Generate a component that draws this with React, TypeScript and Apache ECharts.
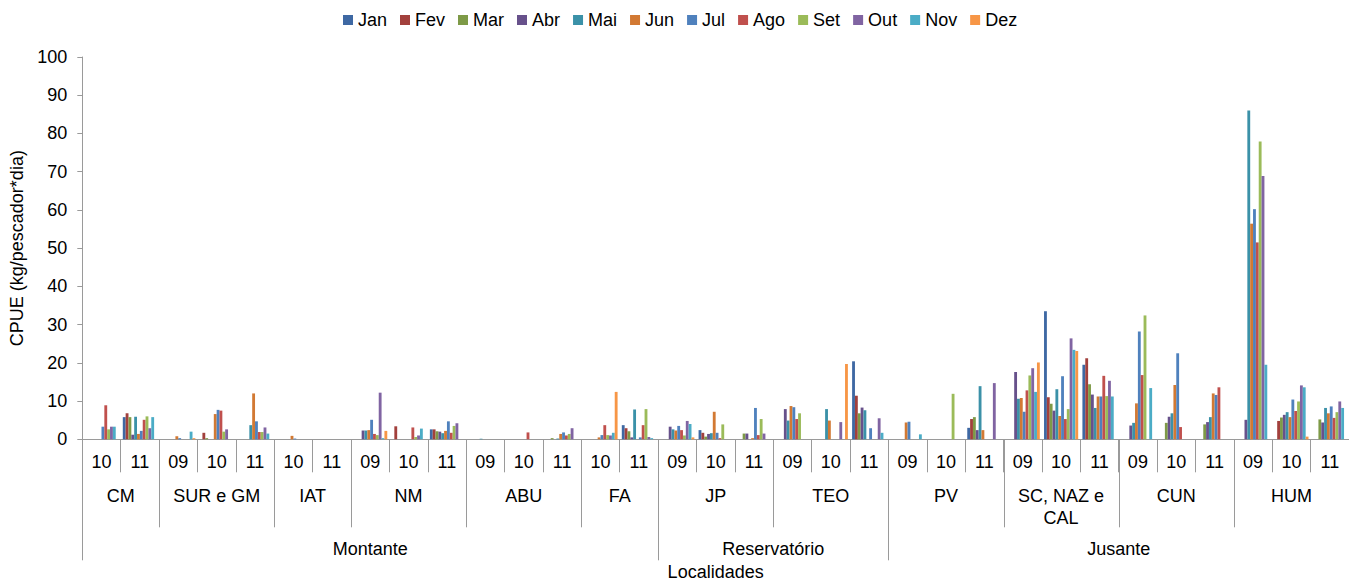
import React, { useEffect, useRef } from "react";
import * as echarts from "echarts";

const months = ["Jan", "Fev", "Mar", "Abr", "Mai", "Jun", "Jul", "Ago", "Set", "Out", "Nov", "Dez"];
const monthColors = ["#3E68A3", "#A2403C", "#7E9A47", "#67518B", "#3B91A8", "#D27933", "#4F81BD", "#C0504D", "#9BBB59", "#8064A2", "#4BACC6", "#F79646"];

const locations = ["CM", "SUR e GM", "IAT", "NM", "ABU", "FA", "JP", "TEO", "PV", "SC, NAZ e\nCAL", "CUN", "HUM"];
const locationYears = [
  ["10", "11"], ["09", "10", "11"], ["10", "11"], ["09", "10", "11"], ["09", "10", "11"], ["10", "11"],
  ["09", "10", "11"], ["09", "10", "11"], ["09", "10", "11"], ["09", "10", "11"], ["09", "10", "11"], ["09", "10", "11"],
];
const regions = ["Montante", "Reservatório", "Jusante"];
const regionLocationCounts = [6, 2, 4];

const yTicks = { min: 0, max: 100, interval: 10 };

// values per month, one per locality/year category (33)
const jan = [0, 5.8, 0, 0, 0, 0, 0, 0, 0, 2.6, 0, 0, 0, 0, 3.7, 0, 2.4, 0, 0, 0, 20.4, 0, 0, 3.0, 0, 33.5, 19.5, 0, 0, 0, 0, 0, 0];
const fev = [0, 6.8, 0, 1.7, 0, 0, 0, 0, 3.4, 2.6, 0, 0, 0, 0, 2.9, 0, 1.7, 0, 0, 0, 11.4, 0, 0, 5.3, 0, 11.0, 21.2, 0, 0, 0, 0, 4.8, 0];
const mar = [0, 5.8, 0, 0.3, 0, 0, 0, 0, 0, 2.1, 0, 0, 0.3, 0, 2.1, 0, 0.7, 1.5, 0, 0, 6.8, 0, 0, 5.8, 0, 9.3, 14.4, 0, 4.3, 3.9, 0, 5.7, 5.2];
const abr = [0, 1.2, 0, 0, 0, 0, 0, 2.3, 0, 2.0, 0, 0, 0, 0, 0.5, 3.3, 1.4, 1.5, 7.9, 0, 8.3, 0, 0, 2.4, 17.6, 7.5, 11.7, 3.6, 5.9, 4.5, 5.1, 6.4, 4.4];
const mai = [0, 5.9, 0, 0, 3.7, 0, 0, 2.3, 0, 1.6, 0.15, 0, 0.2, 0, 7.8, 2.6, 1.6, 0, 4.9, 7.9, 7.6, 0, 0, 13.9, 10.6, 13.1, 8.2, 4.3, 6.8, 5.8, 86.0, 7.1, 8.2];
const jun = [0, 1.4, 0.8, 6.6, 12.0, 0.9, 0, 2.4, 0, 2.2, 0, 0, 1.4, 0.5, 0, 2.3, 7.2, 0.3, 8.7, 4.9, 0, 4.4, 0, 2.4, 10.8, 6.1, 11.2, 9.4, 14.2, 12.0, 56.4, 5.8, 6.8];
const jul = [3.3, 2.2, 0.3, 7.7, 4.7, 0.2, 0, 5.1, 0, 4.7, 0, 0, 1.8, 1.1, 0.5, 3.5, 1.7, 8.2, 8.4, 0, 2.9, 4.6, 0, 0, 7.2, 16.5, 11.2, 28.2, 22.5, 11.6, 60.2, 10.4, 8.6];
const ago = [8.9, 5.1, 0, 7.5, 1.9, 0, 0, 1.4, 3.1, 1.7, 0, 1.8, 1.0, 3.7, 3.7, 2.4, 0.3, 1.1, 5.3, 0, 0, 0, 0, 0, 12.8, 5.3, 16.6, 16.8, 3.2, 13.6, 51.5, 7.4, 5.6];
const set = [2.6, 6.0, 0, 2.0, 1.9, 0, 0, 1.1, 0.6, 3.5, 0, 0, 1.4, 1.1, 7.9, 1.0, 3.9, 5.3, 6.8, 0, 0, 0, 11.9, 0, 16.7, 7.9, 11.3, 32.4, 0, 0, 77.9, 9.9, 7.1];
const out = [3.3, 2.9, 0, 2.6, 3.1, 0, 0, 12.2, 1.0, 4.2, 0, 0, 2.9, 1.0, 0.6, 4.8, 0, 1.5, 0, 4.5, 5.5, 0, 0, 14.7, 18.6, 26.4, 15.3, 0, 0, 0, 68.9, 14.1, 9.9];
const nov = [3.3, 5.8, 2.0, 0, 1.5, 0, 0, 0.3, 2.8, 0, 0, 0, 0, 1.7, 0.3, 4.0, 0, 0, 0, 0, 1.7, 1.3, 0, 0, 12.4, 23.4, 11.2, 13.4, 0, 0, 19.5, 13.6, 8.2];
const dez = [0, 0, 0.3, 0, 0, 0, 0, 2.2, 0, 0, 0, 0, 0, 12.4, 0, 0.5, 0, 0, 0, 19.7, 0, 0, 0, 0, 20.1, 23.1, 0, 0, 0, 0, 0, 0.7, 0];
const monthValues = [jan, fev, mar, abr, mai, jun, jul, ago, set, out, nov, dez];

const FONT = '"Liberation Sans", Arial, sans-serif';
const GREY = "#9A9A9A";

export default function App() {
  const ref = useRef<HTMLDivElement>(null);
  useEffect(() => {
    document.body.style.margin = "0";
    const chart = echarts.init(ref.current!, null, { renderer: "svg" });
    const categories: string[] = [];
    const locStart: number[] = [];
    locations.forEach((loc, li) => {
      locStart.push(categories.length);
      locationYears[li].forEach((y) => categories.push(loc + "|" + y));
    });
    locStart.push(categories.length);

    chart.setOption({
      animation: false,
      textStyle: { fontFamily: FONT },
      color: monthColors,
      legend: {
        data: months,
        left: 343,
        top: 11,
        padding: 0,
        icon: "rect",
        itemWidth: 10,
        itemHeight: 10,
        itemGap: 13,
        textStyle: { fontSize: 18, color: "#000", fontFamily: FONT },
      },
      grid: { left: 82.3, top: 57, width: 1267.9, bottom: 142.7, containLabel: false },
      xAxis: {
        type: "category",
        data: categories,
        boundaryGap: true,
        axisLine: { lineStyle: { color: GREY, width: 1 } },
        axisTick: { show: true, interval: 0, length: 33, lineStyle: { color: GREY } },
        axisLabel: {
          interval: 0,
          margin: 14,
          fontSize: 18,
          color: "#000",
          fontFamily: FONT,
          formatter: (v: string) => v.split("|")[1],
        },
        splitLine: { show: false },
      },
      yAxis: {
        type: "value",
        min: yTicks.min,
        max: yTicks.max,
        interval: yTicks.interval,
        name: "CPUE (kg/pescador*dia)",
        nameLocation: "middle",
        nameGap: 48,
        nameTextStyle: { fontSize: 18, color: "#000", fontFamily: FONT },
        axisLine: { show: true, lineStyle: { color: GREY } },
        axisTick: { show: true, length: 5, lineStyle: { color: GREY } },
        axisLabel: { margin: 15, fontSize: 18, color: "#000", fontFamily: FONT },
        splitLine: { show: false },
      },
      series: months.map((m, i) => ({
        name: m,
        type: "bar",
        data: monthValues[i],
        barGap: "0%",
        barCategoryGap: "11%",
        itemStyle: { color: monthColors[i] },
      })),
    });

    const c0 = chart.convertToPixel({ xAxisIndex: 0 }, 0) as number;
    const c1 = chart.convertToPixel({ xAxisIndex: 0 }, 1) as number;
    const w = c1 - c0;
    const bx = (i: number) => Math.round(c0 - w / 2 + i * w) + 0.5;
    const cx = (a: number, b: number) => c0 - w / 2 + ((a + b) / 2) * w;
    const axisY = chart.convertToPixel({ yAxisIndex: 0 }, 0) as number;

    const elements: any[] = [];
    const regionBounds: number[] = [0];
    let acc = 0;
    regionLocationCounts.forEach((n) => {
      acc += n;
      regionBounds.push(locStart[acc]);
    });
    // location separators
    locStart.forEach((b) => {
      const isRegion = regionBounds.indexOf(b) >= 0;
      const x = bx(b);
      elements.push({
        type: "line",
        shape: { x1: x, y1: axisY, x2: x, y2: axisY + (isRegion ? 121 : 88) },
        style: { stroke: GREY, lineWidth: 1 },
      });
    });
    // location labels
    locations.forEach((loc, li) => {
      elements.push({
        type: "text",
        x: cx(locStart[li], locStart[li + 1]),
        y: axisY + 46,
        style: {
          text: loc,
          fill: "#000",
          font: "18px " + FONT,
          align: "center",
          verticalAlign: "top",
          textAlign: "center",
          textVerticalAlign: "top",
          lineHeight: 22,
        },
      });
    });
    // region labels
    regions.forEach((r, ri) => {
      elements.push({
        type: "text",
        x: cx(regionBounds[ri], regionBounds[ri + 1]),
        y: axisY + 110,
        style: {
          text: r,
          fill: "#000",
          font: "18px " + FONT,
          align: "center",
          verticalAlign: "middle",
          textAlign: "center",
          textVerticalAlign: "middle",
        },
      });
    });
    elements.push({
      type: "text",
      x: cx(0, categories.length),
      y: axisY + 133,
      style: {
        text: "Localidades",
        fill: "#000",
        font: "18px " + FONT,
        align: "center",
        verticalAlign: "middle",
        textAlign: "center",
        textVerticalAlign: "middle",
      },
    });
    chart.setOption({ graphic: elements });

    return () => chart.dispose();
  }, []);
  return <div ref={ref} style={{ width: 1349, height: 582 }} />;
}
